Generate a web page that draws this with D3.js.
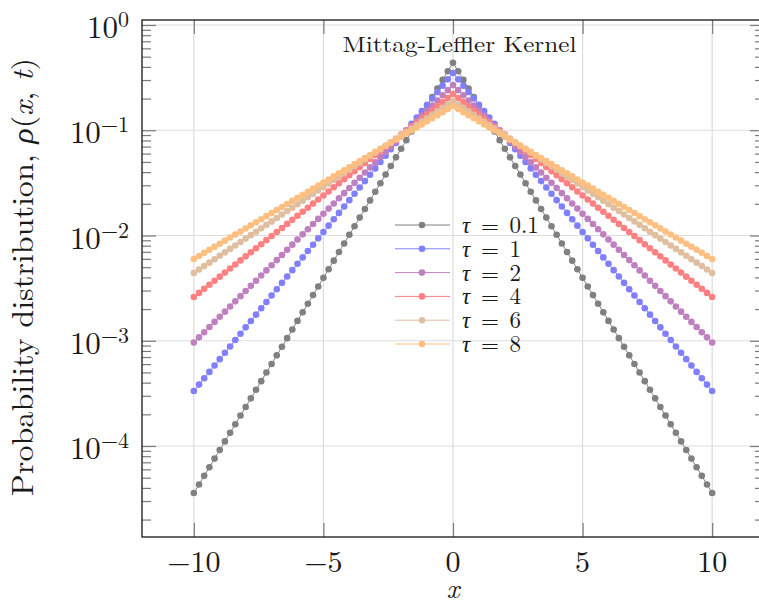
<!DOCTYPE html>
<html>
<head>
<meta charset="utf-8">
<script src="https://cdn.jsdelivr.net/npm/d3@7/dist/d3.min.js"></script>
<style>
  html, body { margin: 0; padding: 0; background: #fff; }
  svg { display: block; }
  text { font-family: "Latin Modern Roman", "CMU Serif", "Liberation Serif", "DejaVu Serif", serif; fill: #1a1a1a; }
</style>
</head>
<body>
<svg id="chart" width="759" height="607"></svg>
<script>
// ---------------- data ----------------
const xValues = [-10, -9.8, -9.6, -9.4, -9.2, -9, -8.8, -8.6, -8.4, -8.2, -8, -7.8, -7.6, -7.4, -7.2, -7, -6.8, -6.6, -6.4, -6.2,
  -6, -5.8, -5.6, -5.4, -5.2, -5, -4.8, -4.6, -4.4, -4.2, -4, -3.8, -3.6, -3.4, -3.2, -3, -2.8, -2.6, -2.4, -2.2,
  -2, -1.8, -1.6, -1.4, -1.2, -1, -0.8, -0.6, -0.4, -0.2, 0, 0.2, 0.4, 0.6, 0.8, 1, 1.2, 1.4, 1.6, 1.8,
  2, 2.2, 2.4, 2.6, 2.8, 3, 3.2, 3.4, 3.6, 3.8, 4, 4.2, 4.4, 4.6, 4.8, 5, 5.2, 5.4, 5.6, 5.8,
  6, 6.2, 6.4, 6.6, 6.8, 7, 7.2, 7.4, 7.6, 7.8, 8, 8.2, 8.4, 8.6, 8.8, 9, 9.2, 9.4, 9.6, 9.8, 10];

const rhoTau01 = [3.573e-5, 4.313e-5, 5.207e-5, 6.286e-5, 7.588e-5, 9.160e-5, 1.106e-4, 1.335e-4, 1.612e-4, 1.946e-4,
  2.349e-4, 2.835e-4, 3.422e-4, 4.132e-4, 4.988e-4, 6.021e-4, 7.270e-4, 8.775e-4, 1.059e-3, 1.279e-3,
  1.544e-3, 1.864e-3, 2.250e-3, 2.716e-3, 3.279e-3, 3.958e-3, 4.779e-3, 5.768e-3, 6.964e-3, 8.407e-3,
  1.015e-2, 1.225e-2, 1.479e-2, 1.786e-2, 2.156e-2, 2.602e-2, 3.141e-2, 3.792e-2, 4.578e-2, 5.526e-2,
  6.671e-2, 8.052e-2, 9.720e-2, 1.173e-1, 1.417e-1, 1.710e-1, 2.065e-1, 2.492e-1, 3.009e-1, 3.633e-1,
  4.385e-1,
  3.633e-1, 3.009e-1, 2.492e-1, 2.065e-1, 1.710e-1, 1.417e-1, 1.173e-1, 9.720e-2, 8.052e-2, 6.671e-2,
  5.526e-2, 4.578e-2, 3.792e-2, 3.141e-2, 2.602e-2, 2.156e-2, 1.786e-2, 1.479e-2, 1.225e-2, 1.015e-2,
  8.407e-3, 6.964e-3, 5.768e-3, 4.779e-3, 3.958e-3, 3.279e-3, 2.716e-3, 2.250e-3, 1.864e-3, 1.544e-3,
  1.279e-3, 1.059e-3, 8.775e-4, 7.270e-4, 6.021e-4, 4.988e-4, 4.132e-4, 3.422e-4, 2.835e-4, 2.349e-4,
  1.946e-4, 1.612e-4, 1.335e-4, 1.106e-4, 9.160e-5, 7.588e-5, 6.286e-5, 5.207e-5, 4.313e-5, 3.573e-5];

const rhoTau1 = [3.334e-4, 3.832e-4, 4.404e-4, 5.061e-4, 5.817e-4, 6.685e-4, 7.683e-4, 8.830e-4, 1.015e-3, 1.166e-3,
  1.340e-3, 1.540e-3, 1.770e-3, 2.035e-3, 2.338e-3, 2.687e-3, 3.088e-3, 3.549e-3, 4.079e-3, 4.688e-3,
  5.388e-3, 6.192e-3, 7.116e-3, 8.178e-3, 9.399e-3, 1.080e-2, 1.241e-2, 1.427e-2, 1.640e-2, 1.885e-2,
  2.166e-2, 2.489e-2, 2.860e-2, 3.288e-2, 3.778e-2, 4.342e-2, 4.990e-2, 5.735e-2, 6.591e-2, 7.575e-2,
  8.706e-2, 1.000e-1, 1.150e-1, 1.321e-1, 1.519e-1, 1.745e-1, 2.006e-1, 2.305e-1, 2.649e-1, 3.045e-1,
  3.499e-1,
  3.045e-1, 2.649e-1, 2.305e-1, 2.006e-1, 1.745e-1, 1.519e-1, 1.321e-1, 1.150e-1, 1.000e-1, 8.706e-2,
  7.575e-2, 6.591e-2, 5.735e-2, 4.990e-2, 4.342e-2, 3.778e-2, 3.288e-2, 2.860e-2, 2.489e-2, 2.166e-2,
  1.885e-2, 1.640e-2, 1.427e-2, 1.241e-2, 1.080e-2, 9.399e-3, 8.178e-3, 7.116e-3, 6.192e-3, 5.388e-3,
  4.688e-3, 4.079e-3, 3.549e-3, 3.088e-3, 2.687e-3, 2.338e-3, 2.035e-3, 1.770e-3, 1.540e-3, 1.340e-3,
  1.166e-3, 1.015e-3, 8.830e-4, 7.683e-4, 6.685e-4, 5.817e-4, 5.061e-4, 4.404e-4, 3.832e-4, 3.334e-4];

const rhoTau2 = [9.619e-4, 1.077e-3, 1.205e-3, 1.349e-3, 1.510e-3, 1.690e-3, 1.891e-3, 2.117e-3, 2.369e-3, 2.652e-3,
  2.968e-3, 3.322e-3, 3.718e-3, 4.162e-3, 4.658e-3, 5.214e-3, 5.836e-3, 6.532e-3, 7.311e-3, 8.183e-3,
  9.159e-3, 1.025e-2, 1.148e-2, 1.284e-2, 1.438e-2, 1.609e-2, 1.801e-2, 2.016e-2, 2.256e-2, 2.525e-2,
  2.827e-2, 3.164e-2, 3.541e-2, 3.963e-2, 4.436e-2, 4.965e-2, 5.557e-2, 6.220e-2, 6.962e-2, 7.793e-2,
  8.722e-2, 9.763e-2, 1.093e-1, 1.223e-1, 1.369e-1, 1.532e-1, 1.715e-1, 1.919e-1, 2.148e-1, 2.405e-1,
  2.692e-1,
  2.405e-1, 2.148e-1, 1.919e-1, 1.715e-1, 1.532e-1, 1.369e-1, 1.223e-1, 1.093e-1, 9.763e-2, 8.722e-2,
  7.793e-2, 6.962e-2, 6.220e-2, 5.557e-2, 4.965e-2, 4.436e-2, 3.963e-2, 3.541e-2, 3.164e-2, 2.827e-2,
  2.525e-2, 2.256e-2, 2.016e-2, 1.801e-2, 1.609e-2, 1.438e-2, 1.284e-2, 1.148e-2, 1.025e-2, 9.159e-3,
  8.183e-3, 7.311e-3, 6.532e-3, 5.836e-3, 5.214e-3, 4.658e-3, 4.162e-3, 3.718e-3, 3.322e-3, 2.968e-3,
  2.652e-3, 2.369e-3, 2.117e-3, 1.891e-3, 1.690e-3, 1.510e-3, 1.349e-3, 1.205e-3, 1.077e-3, 9.619e-4];

const rhoTau4 = [2.608e-3, 2.850e-3, 3.114e-3, 3.404e-3, 3.719e-3, 4.065e-3, 4.442e-3, 4.854e-3, 5.305e-3, 5.798e-3,
  6.336e-3, 6.924e-3, 7.567e-3, 8.269e-3, 9.037e-3, 9.876e-3, 1.079e-2, 1.180e-2, 1.289e-2, 1.409e-2,
  1.539e-2, 1.682e-2, 1.838e-2, 2.009e-2, 2.196e-2, 2.400e-2, 2.622e-2, 2.866e-2, 3.132e-2, 3.423e-2,
  3.740e-2, 4.087e-2, 4.467e-2, 4.882e-2, 5.335e-2, 5.830e-2, 6.371e-2, 6.963e-2, 7.609e-2, 8.315e-2,
  9.087e-2, 9.931e-2, 1.085e-1, 1.186e-1, 1.296e-1, 1.417e-1, 1.548e-1, 1.692e-1, 1.849e-1, 2.020e-1,
  2.208e-1,
  2.020e-1, 1.849e-1, 1.692e-1, 1.548e-1, 1.417e-1, 1.296e-1, 1.186e-1, 1.085e-1, 9.931e-2, 9.087e-2,
  8.315e-2, 7.609e-2, 6.963e-2, 6.371e-2, 5.830e-2, 5.335e-2, 4.882e-2, 4.467e-2, 4.087e-2, 3.740e-2,
  3.423e-2, 3.132e-2, 2.866e-2, 2.622e-2, 2.400e-2, 2.196e-2, 2.009e-2, 1.838e-2, 1.682e-2, 1.539e-2,
  1.409e-2, 1.289e-2, 1.180e-2, 1.079e-2, 9.876e-3, 9.037e-3, 8.269e-3, 7.567e-3, 6.924e-3, 6.336e-3,
  5.798e-3, 5.305e-3, 4.854e-3, 4.442e-3, 4.065e-3, 3.719e-3, 3.404e-3, 3.114e-3, 2.850e-3, 2.608e-3];

const rhoTau6 = [4.405e-3, 4.749e-3, 5.120e-3, 5.520e-3, 5.952e-3, 6.417e-3, 6.918e-3, 7.459e-3, 8.042e-3, 8.671e-3,
  9.348e-3, 1.008e-2, 1.087e-2, 1.172e-2, 1.263e-2, 1.362e-2, 1.468e-2, 1.583e-2, 1.707e-2, 1.840e-2,
  1.984e-2, 2.139e-2, 2.306e-2, 2.486e-2, 2.681e-2, 2.890e-2, 3.116e-2, 3.360e-2, 3.622e-2, 3.905e-2,
  4.211e-2, 4.540e-2, 4.895e-2, 5.277e-2, 5.690e-2, 6.134e-2, 6.614e-2, 7.131e-2, 7.688e-2, 8.289e-2,
  8.937e-2, 9.635e-2, 1.039e-1, 1.120e-1, 1.208e-1, 1.302e-1, 1.404e-1, 1.513e-1, 1.632e-1, 1.759e-1,
  1.897e-1,
  1.759e-1, 1.632e-1, 1.513e-1, 1.404e-1, 1.302e-1, 1.208e-1, 1.120e-1, 1.039e-1, 9.635e-2, 8.937e-2,
  8.289e-2, 7.688e-2, 7.131e-2, 6.614e-2, 6.134e-2, 5.690e-2, 5.277e-2, 4.895e-2, 4.540e-2, 4.211e-2,
  3.905e-2, 3.622e-2, 3.360e-2, 3.116e-2, 2.890e-2, 2.681e-2, 2.486e-2, 2.306e-2, 2.139e-2, 1.984e-2,
  1.840e-2, 1.707e-2, 1.583e-2, 1.468e-2, 1.362e-2, 1.263e-2, 1.172e-2, 1.087e-2, 1.008e-2, 9.348e-3,
  8.671e-3, 8.042e-3, 7.459e-3, 6.918e-3, 6.417e-3, 5.952e-3, 5.520e-3, 5.120e-3, 4.749e-3, 4.405e-3];

const rhoTau8 = [5.982e-3, 6.396e-3, 6.839e-3, 7.312e-3, 7.818e-3, 8.360e-3, 8.938e-3, 9.557e-3, 1.022e-2, 1.093e-2,
  1.168e-2, 1.249e-2, 1.335e-2, 1.428e-2, 1.527e-2, 1.632e-2, 1.745e-2, 1.866e-2, 1.995e-2, 2.133e-2,
  2.281e-2, 2.439e-2, 2.608e-2, 2.788e-2, 2.981e-2, 3.187e-2, 3.408e-2, 3.644e-2, 3.896e-2, 4.166e-2,
  4.454e-2, 4.762e-2, 5.092e-2, 5.444e-2, 5.821e-2, 6.224e-2, 6.654e-2, 7.115e-2, 7.607e-2, 8.134e-2,
  8.697e-2, 9.299e-2, 9.942e-2, 1.063e-1, 1.137e-1, 1.215e-1, 1.299e-1, 1.389e-1, 1.485e-1, 1.588e-1,
  1.698e-1,
  1.588e-1, 1.485e-1, 1.389e-1, 1.299e-1, 1.215e-1, 1.137e-1, 1.063e-1, 9.942e-2, 9.299e-2, 8.697e-2,
  8.134e-2, 7.607e-2, 7.115e-2, 6.654e-2, 6.224e-2, 5.821e-2, 5.444e-2, 5.092e-2, 4.762e-2, 4.454e-2,
  4.166e-2, 3.896e-2, 3.644e-2, 3.408e-2, 3.187e-2, 2.981e-2, 2.788e-2, 2.608e-2, 2.439e-2, 2.281e-2,
  2.133e-2, 1.995e-2, 1.866e-2, 1.745e-2, 1.632e-2, 1.527e-2, 1.428e-2, 1.335e-2, 1.249e-2, 1.168e-2,
  1.093e-2, 1.022e-2, 9.557e-3, 8.938e-3, 8.360e-3, 7.818e-3, 7.312e-3, 6.839e-3, 6.396e-3, 5.982e-3];

const seriesLabels = ["0.1", "1", "2", "4", "6", "8"];
const seriesColors = ["#808080", "#8080ff", "#bf80bf", "#ff8080", "#dfbf9f", "#ffbf80"];
const seriesValues = [rhoTau01, rhoTau1, rhoTau2, rhoTau4, rhoTau6, rhoTau8];

const xTickValues = [-10, -5, 0, 5, 10];
const xTickLabels = ["\u221210", "\u22125", "0", "5", "10"];
const yTickExponents = [0, -1, -2, -3, -4];
const titleText = "Mittag-Leffler Kernel";

// ---------------- layout ----------------
const svg = d3.select("#chart");
const plotL = 142, plotR = 764, plotT = 20, plotB = 537;
const xDomain = [-12, 12];
const yDomain = [1.366e-5, 1.1155];

const x = d3.scaleLinear().domain(xDomain).range([plotL, plotR]);
const y = d3.scaleLog().domain(yDomain).range([plotB, plotT]);

const yMajor = yTickExponents.map(e => Math.pow(10, e));
const yMinor = [];
for (let e = -5; e <= 0; e++) for (let m = 2; m <= 9; m++) {
  const v = m * Math.pow(10, e);
  if (v >= yDomain[0] && v <= yDomain[1]) yMinor.push(v);
}

// grid
const grid = svg.append("g").attr("stroke", "#dcdcdc").attr("stroke-width", 1.2);
grid.selectAll("line.gx").data(xTickValues).join("line")
  .attr("x1", d => x(d)).attr("x2", d => x(d)).attr("y1", plotT).attr("y2", plotB);
grid.selectAll("line.gy").data(yMajor).join("line")
  .attr("y1", d => y(d)).attr("y2", d => y(d)).attr("x1", plotL).attr("x2", plotR);

// axes (ticks only, inward)
const tickColor = "#7a7a7a";
function styleAxis(g) {
  g.select(".domain").remove();
  g.selectAll(".tick line").attr("stroke", tickColor).attr("stroke-width", 1.2);
  g.selectAll(".tick text").remove();
}
svg.append("g").attr("transform", `translate(0,${plotB})`)
  .call(d3.axisBottom(x).tickValues(xTickValues).tickSizeInner(-14).tickSizeOuter(0)).call(styleAxis);
svg.append("g").attr("transform", `translate(0,${plotT})`)
  .call(d3.axisTop(x).tickValues(xTickValues).tickSizeInner(-14).tickSizeOuter(0)).call(styleAxis);
svg.append("g").attr("transform", `translate(${plotL},0)`)
  .call(d3.axisLeft(y).tickValues(yMajor).tickSizeInner(-14).tickSizeOuter(0)).call(styleAxis);
svg.append("g").attr("transform", `translate(${plotL},0)`)
  .call(d3.axisLeft(y).tickValues(yMinor).tickSizeInner(-9).tickSizeOuter(0)).call(styleAxis);
svg.append("g").attr("transform", `translate(${plotR},0)`)
  .call(d3.axisRight(y).tickValues(yMajor).tickSizeInner(-14).tickSizeOuter(0)).call(styleAxis);
svg.append("g").attr("transform", `translate(${plotR},0)`)
  .call(d3.axisRight(y).tickValues(yMinor).tickSizeInner(-9).tickSizeOuter(0)).call(styleAxis);

// series
const line = d3.line().x(d => x(d[0])).y(d => y(d[1]));
seriesValues.forEach((vals, i) => {
  const pts = xValues.map((xv, j) => [xv, vals[j]]);
  const g = svg.append("g");
  g.append("path").datum(pts).attr("d", line)
    .attr("fill", "none").attr("stroke", seriesColors[i]).attr("stroke-width", 1);
  g.selectAll("circle").data(pts).join("circle")
    .attr("cx", d => x(d[0])).attr("cy", d => y(d[1])).attr("r", 3.3)
    .attr("fill", seriesColors[i]);
});

// frame
svg.append("rect").attr("x", plotL).attr("y", plotT)
  .attr("width", plotR - plotL).attr("height", plotB - plotT)
  .attr("fill", "none").attr("stroke", "#262626").attr("stroke-width", 1.4);

// x tick labels
svg.append("g").selectAll("text").data(xTickValues).join("text")
  .attr("x", d => x(d)).attr("y", 572).attr("text-anchor", "middle")
  .attr("font-size", 30).text((d, i) => xTickLabels[i]);

// y tick labels with superscripts
const yl = svg.append("g").selectAll("text").data(yTickExponents).join("text")
  .attr("x", 129).attr("y", d => y(Math.pow(10, d)) + 13).attr("text-anchor", "end")
  .attr("font-size", 31);
yl.append("tspan").text("10");
yl.append("tspan").attr("font-size", 22).attr("dy", -11)
  .text(d => d === 0 ? "0" : "\u2212" + Math.abs(d));

// axis titles
svg.append("text").attr("x", x(0)).attr("y", 598).attr("text-anchor", "middle")
  .attr("font-size", 28).attr("font-style", "italic").text("x");

const yt = svg.append("text").attr("transform", "translate(33,277) rotate(-90)")
  .attr("text-anchor", "middle").attr("font-size", 30)
  .attr("textLength", 438).attr("lengthAdjust", "spacingAndGlyphs");
yt.append("tspan").text("Probability distribution, ");
yt.append("tspan").attr("font-style", "italic").text("\u03c1");
yt.append("tspan").text("(");
yt.append("tspan").attr("font-style", "italic").text("x");
yt.append("tspan").text(", ");
yt.append("tspan").attr("font-style", "italic").text("t");
yt.append("tspan").text(")");

// title
svg.append("text").attr("x", 459.5).attr("y", 52).attr("text-anchor", "middle")
  .attr("font-size", 22).attr("textLength", 234).attr("lengthAdjust", "spacingAndGlyphs")
  .text(titleText);

// legend
const legTop = 225, legStep = 23.8;
const leg = svg.append("g");
seriesLabels.forEach((lab, i) => {
  const cy = legTop + i * legStep;
  leg.append("line").attr("x1", 395).attr("x2", 450).attr("y1", cy).attr("y2", cy)
    .attr("stroke", seriesColors[i]).attr("stroke-width", 1);
  leg.append("circle").attr("cx", 422).attr("cy", cy).attr("r", 3.3).attr("fill", seriesColors[i]);
  const t = leg.append("text").attr("x", 462).attr("y", cy + 8).attr("font-size", 23);
  t.append("tspan").attr("font-style", "italic").text("\u03c4");
  t.append("tspan").attr("dx", 3).text(" = ");
  t.append("tspan").attr("dx", 3).text(lab);
});
</script>
</body>
</html>
